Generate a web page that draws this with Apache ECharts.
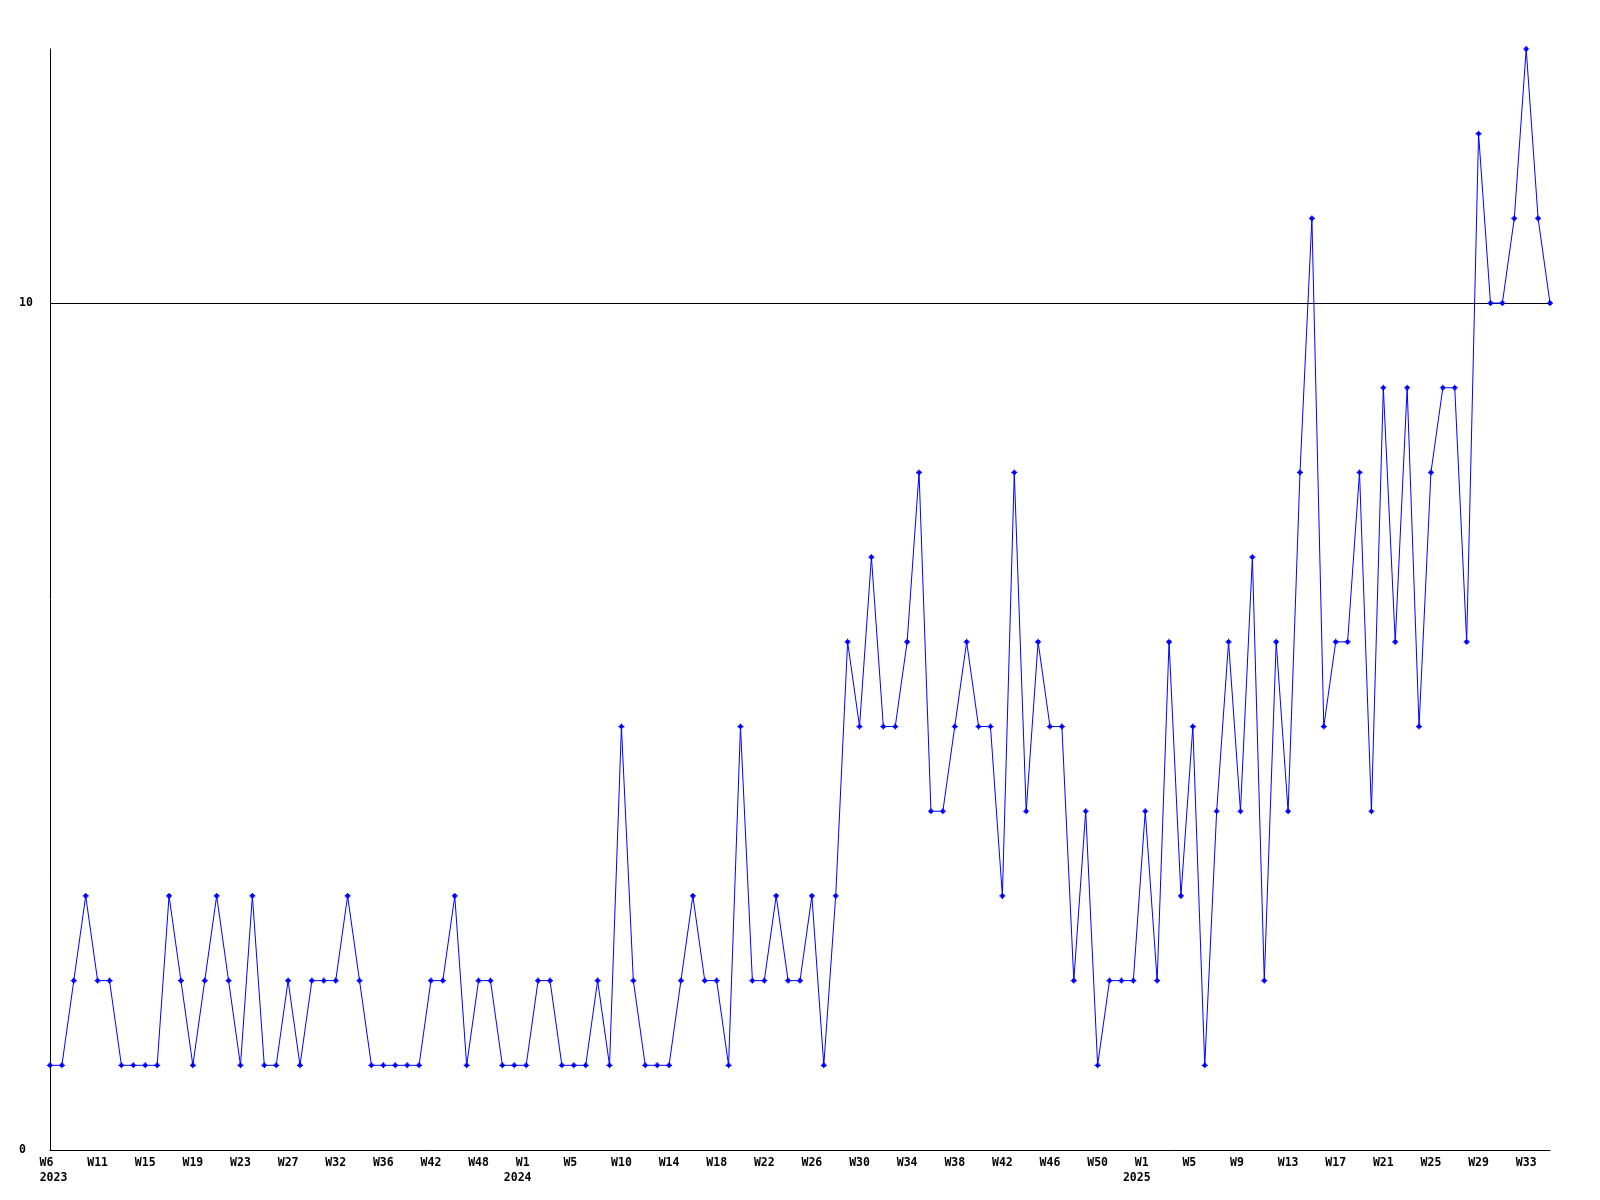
<!DOCTYPE html>
<html>
<head>
<meta charset="utf-8">
<script src="https://cdn.jsdelivr.net/npm/echarts@6/dist/echarts.min.js"></script>
<style>html,body{margin:0;padding:0;background:#fff;}#c{width:1600px;height:1200px;}</style>
</head>
<body>
<div id="c"></div>
<script>
const tickLabels = ['W6','W11','W15','W19','W23','W27','W32','W36','W42','W48',
  'W1','W5','W10','W14','W18','W22','W26','W30','W34','W38','W42','W46','W50',
  'W1','W5','W9','W13','W17','W21','W25','W29','W33'];
const yearLabels = {0:'2023', 10:'2024', 23:'2025'};
const values = [
  1,1,2,3,2,2,1,1,1,1,
  3,2,1,2,3,2,1,3,1,1,
  2,1,2,2,2,3,2,1,1,1,
  1,1,2,2,3,1,2,2,1,1,
  1,2,2,1,1,1,2,1,5,2,
  1,1,1,2,3,2,2,1,5,2,
  2,3,2,2,3,1,3,6,5,7,
  5,5,6,8,4,4,5,6,5,5,
  3,8,4,6,5,5,2,4,1,2,
  2,2,4,2,6,3,5,1,4,6,
  4,7,2,6,4,8,11,5,6,6,
  8,4,9,6,9,5,8,9,9,6,
  12,10,10,11,13,11,10
];
const yTicks = [0, 10];
const categories = values.map((v, i) => 'p' + i);

const chart = echarts.init(document.getElementById('c'), null, {renderer: 'canvas'});
const font = 'DejaVu Sans Mono';
const base = {fontFamily: font, fontWeight: 'bold', fontSize: 11.5, lineHeight: 15, color: '#000'};
chart.setOption({
  animation: false,
  backgroundColor: '#ffffff',
  grid: {left: 50, right: 50, top: 49, bottom: 50, containLabel: false},
  xAxis: {
    type: 'category',
    data: categories,
    boundaryGap: false,
    axisLine: {show: true, lineStyle: {color: '#000', width: 1}},
    axisTick: {show: false},
    splitLine: {show: false},
    axisLabel: Object.assign({}, base, {
      interval: 3,
      margin: 6,
      align: 'center',
      rich: {
        w3: Object.assign({}, base),
        w2: Object.assign({}, base, {padding: [0, 7, 0, 0]}),
        y0: Object.assign({}, base, {padding: [0, 0, 0, 7]}),
        y: Object.assign({}, base, {padding: [0, 17, 0, 0]})
      },
      formatter: function (val, idx) {
        if (idx % 4 !== 0) return '';
        const k = idx / 4;
        const t = tickLabels[k] || '';
        let s = '{' + (t.length <= 2 ? 'w2' : 'w3') + '|' + t + '}';
        if (yearLabels[k]) s += '\n{' + (k === 0 ? 'y0' : 'y') + '|' + yearLabels[k] + '}';
        return s;
      }
    })
  },
  yAxis: {
    type: 'value',
    min: 0,
    max: 13,
    interval: 10,
    axisLine: {show: true, lineStyle: {color: '#000', width: 1}},
    axisTick: {show: false},
    splitLine: {show: true, showMinLine: false, showMaxLine: false, lineStyle: {color: '#000', width: 1}},
    axisLabel: {
      showMaxLabel: false,
      margin: 31,
      align: 'left',
      color: '#000',
      fontFamily: font,
      fontWeight: 'bold',
      fontSize: 11.5,
      formatter: function (v) { return yTicks.indexOf(v) >= 0 ? String(v) : ''; }
    }
  },
  series: [{
    type: 'line',
    data: values,
    symbol: 'path://M2,0L3,0L3,1L4,1L4,2L5,2L5,3L4,3L4,4L3,4L3,5L2,5L2,4L1,4L1,3L0,3L0,2L1,2L1,1L2,1Z',
    symbolSize: 6,
    showAllSymbol: true,
    lineStyle: {color: '#0000ff', width: 1},
    itemStyle: {color: '#0000ff', borderWidth: 0},
    z: 5
  }]
});
</script>
</body>
</html>
